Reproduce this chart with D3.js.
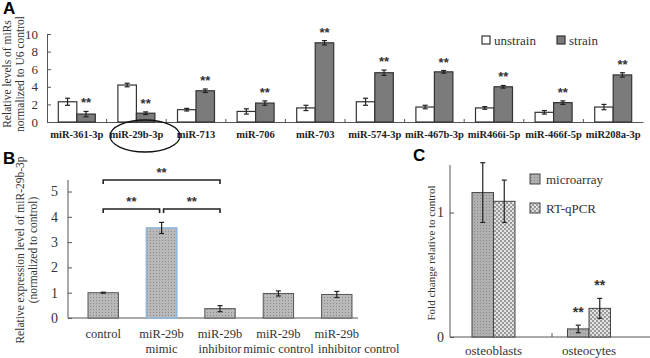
<!DOCTYPE html>
<meta charset="utf-8">
<head>
	<script src="https://cdnjs.cloudflare.com/ajax/libs/d3/7.8.5/d3.min.js"></script>
</head>
<style>
	body { margin: 0; background: #fff; }
	svg { display: block; font-family: "Liberation Serif", serif; }
	.panel { font-family: "Liberation Sans", Arial, sans-serif; font-weight: bold; font-size: 17px; }
	.axis path, .axis line { stroke: #555; }
	.axis text { font-family: "Liberation Serif", serif; fill: #333; }
</style>
<body>
<script>
	// ---- data ----
	var mirs = ["miR-361-3p", "miR-29b-3p", "miR-713", "miR-706", "miR-703", "miR-574-3p",
		"miR-467b-3p", "miR466i-5p", "miR-466f-5p", "miR208a-3p"];
	var unstrain = [2.3, 4.2, 1.4, 1.2, 1.6, 2.3, 1.7, 1.6, 1.1, 1.7];
	var unstrainErr = [0.4, 0.2, 0.15, 0.3, 0.3, 0.4, 0.2, 0.15, 0.2, 0.3];
	var strain = [0.9, 1.0, 3.55, 2.15, 9.0, 5.6, 5.7, 4.0, 2.2, 5.35];
	var strainErr = [0.3, 0.15, 0.2, 0.25, 0.25, 0.3, 0.15, 0.15, 0.2, 0.25];
	var yTicksA = [0, 2, 4, 6, 8, 10];

	var groupsB = [["control"], ["miR-29b", "mimic"], ["miR-29b", "inhibitor"],
		["miR-29b", "mimic control"], ["miR-29b", "inhibitor control"]];
	var valuesB = [1.0, 3.56, 0.37, 0.97, 0.93];
	var errB = [0.02, 0.22, 0.12, 0.1, 0.12];
	var yTicksB = [0, 1, 2, 3, 4, 5];

	var cellsC = ["osteoblasts", "osteocytes"];
	var microarray = [1.16, 0.065];
	var microarrayErr = [0.24, 0.03];
	var rtqpcr = [1.09, 0.23];
	var rtqpcrErr = [0.17, 0.08];
	var yTicksC = [0, 1];

	var svg = d3.select("body").append("svg")
		.attr("width", 650).attr("height", 358);

	// fill patterns
	var defs = svg.append("defs");
	var pB = defs.append("pattern").attr("id", "dotsB").attr("patternUnits", "userSpaceOnUse")
		.attr("width", 3).attr("height", 3);
	pB.append("rect").attr("width", 3).attr("height", 3).attr("fill", "#b9b9b9");
	pB.append("rect").attr("width", 1).attr("height", 1).attr("fill", "#8a8a8a");
	var pM = defs.append("pattern").attr("id", "hatchM").attr("patternUnits", "userSpaceOnUse")
		.attr("width", 3).attr("height", 3);
	pM.append("rect").attr("width", 3).attr("height", 3).attr("fill", "#b0b0b0");
	pM.append("rect").attr("width", 1).attr("height", 1).attr("fill", "#8c8c8c");
	var pR = defs.append("pattern").attr("id", "checkR").attr("patternUnits", "userSpaceOnUse")
		.attr("width", 4).attr("height", 4);
	pR.append("rect").attr("width", 4).attr("height", 4).attr("fill", "#e2e2e2");
	pR.append("rect").attr("width", 2).attr("height", 2).attr("fill", "#9a9a9a");
	pR.append("rect").attr("x", 2).attr("y", 2).attr("width", 2).attr("height", 2).attr("fill", "#9a9a9a");

	function errBar(g, x, y, lo, hi, cap) {
		g.append("line").attr("x1", x).attr("x2", x).attr("y1", y(lo)).attr("y2", y(hi))
			.attr("stroke", "#222").attr("stroke-width", 1.2);
		[lo, hi].forEach(function(v) {
			g.append("line").attr("x1", x - cap).attr("x2", x + cap).attr("y1", y(v)).attr("y2", y(v))
				.attr("stroke", "#222").attr("stroke-width", 1.2);
		});
	}
	function stars(g, x, y, size) {
		g.append("text").attr("x", x).attr("y", y).attr("text-anchor", "middle")
			.style("font-family", "Liberation Sans, sans-serif").style("font-size", size + "px")
			.style("font-weight", "bold").attr("fill", "#333").text("**");
	}

	// ---------------- Panel A ----------------
	var gA = svg.append("g");
	var xA = d3.scaleBand().domain(mirs).range([47, 643]);
	var subA = d3.scaleBand().domain(["u", "s"]).range([0, 37]);
	var yA = d3.scaleLinear().domain([0, 10]).range([122, 34]);

	gA.append("text").attr("class", "panel").attr("x", 3).attr("y", 14).text("A");

	gA.append("g").attr("class", "axis")
		.attr("transform", "translate(0,122)")
		.call(d3.axisBottom(xA).tickValues(mirs.slice(1)).tickSize(-3).tickFormat("").tickSizeOuter(0))
		.call(function(g) {
			g.selectAll(".tick").attr("transform", function(d) { return "translate(" + xA(d) + ",0)"; });
		});
	gA.append("g").attr("class", "axis")
		.attr("transform", "translate(47,0)")
		.call(d3.axisLeft(yA).tickValues(yTicksA).tickFormat(d3.format("d")).tickSize(-4).tickPadding(9).tickSizeOuter(0))
		.selectAll("text").style("font-size", "13px");

	mirs.forEach(function(m, i) {
		var x0 = xA(m) + (xA.bandwidth() - 37) / 2;
		gA.append("rect").attr("x", x0).attr("y", yA(unstrain[i]))
			.attr("width", subA.bandwidth()).attr("height", yA(0) - yA(unstrain[i]))
			.attr("fill", "#fff").attr("stroke", "#333").attr("stroke-width", 1.2);
		gA.append("rect").attr("x", x0 + subA("s")).attr("y", yA(strain[i]))
			.attr("width", subA.bandwidth()).attr("height", yA(0) - yA(strain[i]))
			.attr("fill", "#7b7b7b").attr("stroke", "#333").attr("stroke-width", 1.2);
		errBar(gA, x0 + subA.bandwidth() / 2, yA, unstrain[i] - unstrainErr[i], unstrain[i] + unstrainErr[i], 2.5);
		errBar(gA, x0 + subA("s") + subA.bandwidth() / 2, yA, strain[i] - strainErr[i], strain[i] + strainErr[i], 2.5);
		stars(gA, x0 + subA("s") + subA.bandwidth() / 2, yA(strain[i] + strainErr[i]) - 4, 13);
		gA.append("text").attr("x", xA(m) + xA.bandwidth() / 2).attr("y", 138)
			.attr("text-anchor", "middle").style("font-size", "10.5px").style("font-weight", "bold")
			.attr("fill", "#222").text(m);
	});
	gA.append("ellipse").attr("cx", 145).attr("cy", 136).attr("rx", 35).attr("ry", 16)
		.attr("fill", "none").attr("stroke", "#111").attr("stroke-width", 1.3);

	var yLabA = gA.append("text").attr("transform", "translate(11,74) rotate(-90)")
		.attr("text-anchor", "middle").style("font-size", "11.5px").attr("fill", "#333");
	yLabA.append("tspan").attr("x", 0).attr("dy", 0).text("Relative levels of miRs");
	yLabA.append("tspan").attr("x", 0).attr("dy", 12.5).text("normalized to U6 control");

	var legA = [["unstrain", "#fff"], ["strain", "#7b7b7b"]];
	legA.forEach(function(d, i) {
		var lx = 482 + i * 75;
		gA.append("rect").attr("x", lx).attr("y", 36).attr("width", 8).attr("height", 8)
			.attr("fill", d[1]).attr("stroke", "#333").attr("stroke-width", 1.2);
		gA.append("text").attr("x", lx + 12).attr("y", 45).style("font-size", "13px")
			.attr("fill", "#333").text(d[0]);
	});

	// ---------------- Panel B ----------------
	var gB = svg.append("g");
	var xB = d3.scaleBand().domain(d3.range(groupsB.length)).range([74, 366]).paddingInner(0.48).paddingOuter(0.24);
	var yB = d3.scaleLinear().domain([0, 5]).range([318, 191.5]);

	gB.append("text").attr("class", "panel").attr("x", 3).attr("y", 164).text("B");

	gB.append("line").attr("x1", 68).attr("x2", 358).attr("y1", 318).attr("y2", 318).attr("stroke", "#555");
	gB.append("g").attr("class", "axis")
		.attr("transform", "translate(68,0)")
		.call(d3.axisLeft(yB).tickValues(yTicksB).tickFormat(d3.format("d")).tickSize(-4).tickPadding(10).tickSizeOuter(0))
		.call(function(g) { g.select(".domain").attr("d", "M0,318V180"); })
		.selectAll("text").style("font-size", "14px");

	groupsB.forEach(function(lab, i) {
		var bx = xB(i), bw = xB.bandwidth();
		gB.append("rect").attr("x", bx).attr("y", yB(valuesB[i]))
			.attr("width", bw).attr("height", yB(0) - yB(valuesB[i]))
			.attr("fill", "url(#dotsB)")
			.attr("stroke", i === 1 ? "#8fb8dc" : "#555").attr("stroke-width", i === 1 ? 1.6 : 1);
		errBar(gB, bx + bw / 2, yB, valuesB[i] - errB[i], valuesB[i] + errB[i], 2.5);
		var t = gB.append("text").attr("text-anchor", "middle").style("font-size", "12.5px").attr("fill", "#333");
		lab.forEach(function(s, k) {
			t.append("tspan").attr("x", bx + bw / 2 + (i === 4 ? 22 : 0) * k).attr("y", 338 + k * 15).text(s);
		});
	});

	// significance brackets
	var cB = function(i) { return xB(i) + xB.bandwidth() / 2; };
	var brackets = [[0, 2, 180, 2], [0, 1, 209, 0], [1, 2, 209, 0]];
	brackets.forEach(function(b) {
		var x1 = cB(b[0]) + (b[0] === 1 ? 2 : 0), x2 = cB(b[1]) - (b[1] === 1 ? 2 : 0);
		gB.append("path").attr("d", "M" + x1 + "," + (b[2] + 4) + "V" + b[2] + "H" + x2 + "V" + (b[2] + 4))
			.attr("fill", "none").attr("stroke", "#222").attr("stroke-width", 1.6);
		stars(gB, (x1 + x2) / 2, b[2] - 3, 13);
	});

	var yLabB = gB.append("text").attr("transform", "translate(24,250) rotate(-90)")
		.attr("text-anchor", "middle").style("font-size", "11.5px").attr("fill", "#333");
	yLabB.append("tspan").attr("x", 0).attr("dy", 0).text("Relative expression level of miR-29b-3p");
	yLabB.append("tspan").attr("x", 0).attr("dy", 13).text("(normalized to control)");

	// ---------------- Panel C ----------------
	var gC = svg.append("g");
	var xC = d3.scaleBand().domain(cellsC).range([450, 645]);
	var subC = d3.scaleBand().domain(["m", "r"]).range([0, 43]);
	var yC = d3.scaleLinear().domain([0, 1]).range([337, 212.5]);

	gC.append("text").attr("class", "panel").attr("x", 413).attr("y", 161).text("C");

	gC.append("line").attr("x1", 450).attr("x2", 650).attr("y1", 337).attr("y2", 337).attr("stroke", "#555");
	gC.append("line").attr("x1", 552).attr("x2", 552).attr("y1", 337).attr("y2", 333).attr("stroke", "#555");
	gC.append("g").attr("class", "axis")
		.attr("transform", "translate(450,0)")
		.call(d3.axisLeft(yC).tickValues(yTicksC).tickFormat(d3.format("d")).tickSize(-4).tickPadding(6).tickSizeOuter(0))
		.call(function(g) { g.select(".domain").attr("d", "M0,337V165"); })
		.selectAll("text").style("font-size", "14px");

	cellsC.forEach(function(c, i) {
		var x0 = xC(c) + 22 + i * -2;
		gC.append("rect").attr("x", x0).attr("y", yC(microarray[i]))
			.attr("width", subC.bandwidth()).attr("height", yC(0) - yC(microarray[i]))
			.attr("fill", "url(#hatchM)").attr("stroke", "#444").attr("stroke-width", 1);
		gC.append("rect").attr("x", x0 + subC("r")).attr("y", yC(rtqpcr[i]))
			.attr("width", subC.bandwidth()).attr("height", yC(0) - yC(rtqpcr[i]))
			.attr("fill", "url(#checkR)").attr("stroke", "#444").attr("stroke-width", 1);
		errBar(gC, x0 + subC.bandwidth() / 2, yC, microarray[i] - microarrayErr[i], microarray[i] + microarrayErr[i], 2.5);
		errBar(gC, x0 + subC("r") + subC.bandwidth() / 2, yC, rtqpcr[i] - rtqpcrErr[i], rtqpcr[i] + rtqpcrErr[i], 2.5);
		if (i === 1) {
			stars(gC, x0 + subC.bandwidth() / 2, yC(microarray[i] + microarrayErr[i]) - 8, 14);
			stars(gC, x0 + subC("r") + subC.bandwidth() / 2, yC(rtqpcr[i] + rtqpcrErr[i]) - 8, 14);
		}
		gC.append("text").attr("x", x0 + 21.5).attr("y", 355).attr("text-anchor", "middle")
			.style("font-size", "13px").attr("fill", "#333").text(c);
	});

	var legC = [["microarray", "url(#hatchM)"], ["RT-qPCR", "url(#checkR)"]];
	legC.forEach(function(d, i) {
		var ly = 174 + i * 29;
		gC.append("rect").attr("x", 530).attr("y", ly).attr("width", 10).attr("height", 10)
			.attr("fill", d[1]).attr("stroke", "#444");
		gC.append("text").attr("x", 546).attr("y", ly + 10).style("font-size", "13px")
			.attr("fill", "#333").text(d[0]);
	});

	gC.append("text").attr("transform", "translate(435,253) rotate(-90)")
		.attr("text-anchor", "middle").style("font-size", "11px").attr("fill", "#333")
		.text("Fold change relative to control");
</script>
</body>
